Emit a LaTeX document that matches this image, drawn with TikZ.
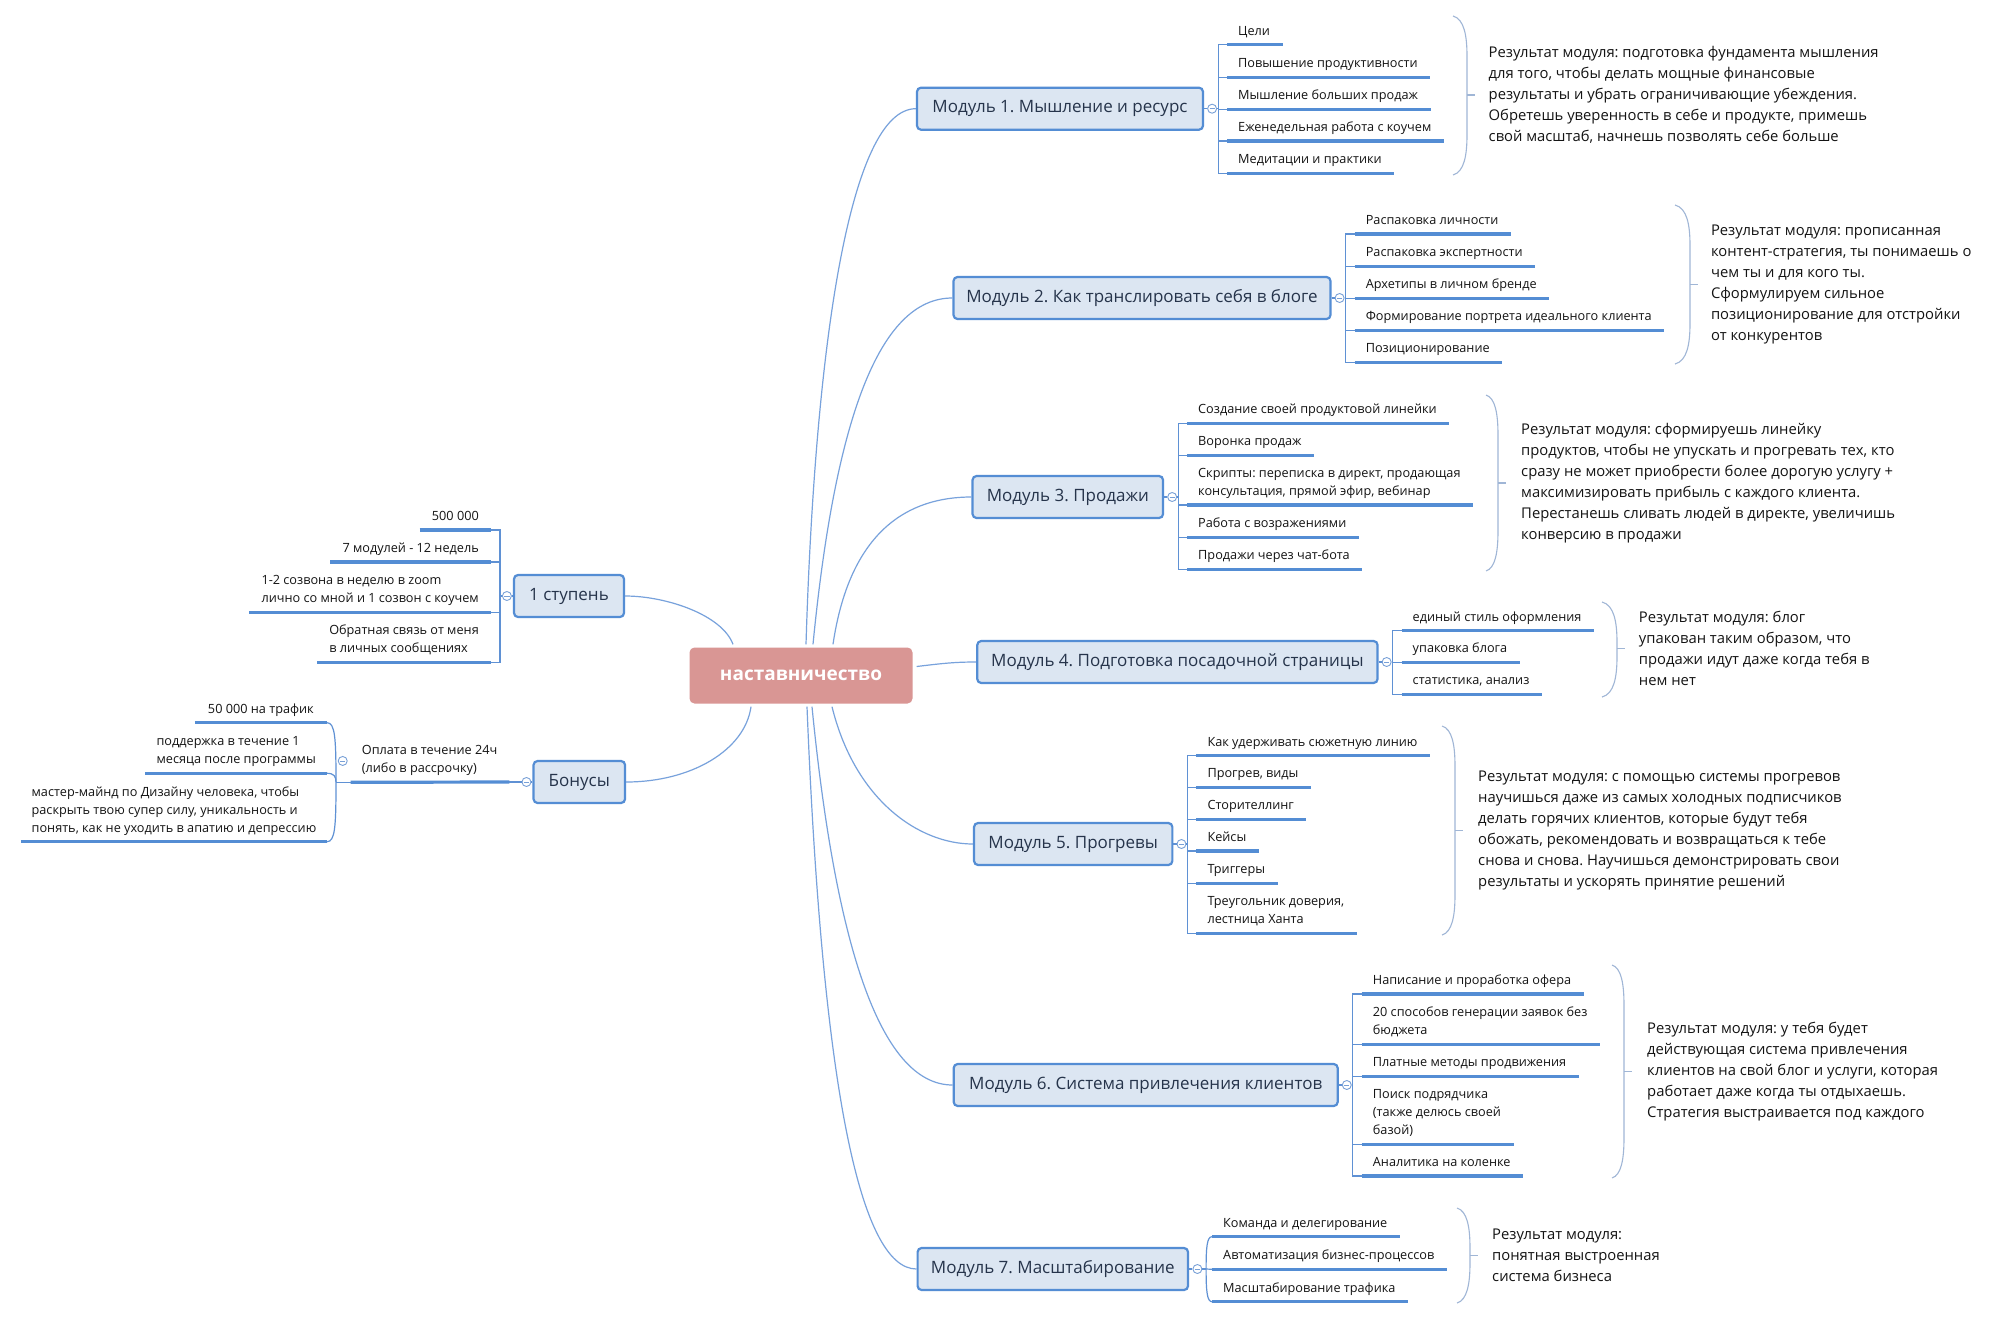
\documentclass[tikz,border=0pt]{standalone}
\usepackage{fontspec}
\setmainfont{Open Sans}
\frenchspacing
\definecolor{mblue}{RGB}{84,141,212}
\definecolor{mfill}{RGB}{220,230,242}
\definecolor{trk}{RGB}{95,145,212}
\definecolor{crv}{RGB}{120,162,220}
\definecolor{brc}{RGB}{160,182,214}
\definecolor{cbtn}{RGB}{120,160,215}
\definecolor{mtext}{RGB}{38,52,75}
\definecolor{ctext}{RGB}{20,20,20}
\definecolor{cfill}{RGB}{217,150,148}
\newcommand\bracepath[5]{%
  \draw[brace] (#1,#2) .. controls (#1+0.8*#5,#2+3) and (#1+#5,#2+20) .. (#1+#5,#2+40) -- (#1+#5,#3-40) .. controls (#1+#5,#3-20) and (#1+0.8*#5,#3-3) .. (#1,#3);
  \draw[brace] (#1+#5,#4) -- ++(8,0);}
\begin{document}
\frenchspacing
\begin{tikzpicture}[x=1pt,y=-1pt,
  module/.style={draw=mblue, line width=2.2pt, fill=mfill, rounded corners=4pt, minimum height=42pt, inner sep=0pt, font=\fontsize{17}{20}\selectfont, text=mtext},
  centre/.style={fill=cfill, rounded corners=5pt, minimum width=223pt, minimum height=56pt, inner sep=0pt, text=white, font=\bfseries\fontsize{19}{22}\selectfont},
  item/.style={inner xsep=11pt, inner ysep=5.8pt, text depth=3.5pt, align=left, text=ctext, font=\fontsize{12.7}{18}\selectfont},
  itemR/.style={item, anchor=south west},
  itemL/.style={item, anchor=south east, inner xsep=12pt},
  res/.style={anchor=west, inner sep=0pt, align=left, text=ctext, font=\fontsize{14.8}{21}\selectfont},
  uline/.style={draw=mblue, line width=3.2pt},
  trunk/.style={draw=trk, line width=1.2pt},
  curve/.style={draw=crv, line width=1.2pt},
  brace/.style={draw=brc, line width=1.1pt},
  btn/.style={circle, draw=cbtn, fill=white, line width=0.9pt, minimum size=9pt, inner sep=0pt, path picture={\draw[cbtn, line width=0.9pt] ([xshift=-2.6pt]path picture bounding box.center) -- ([xshift=2.6pt]path picture bounding box.center);}},
]
\fill[white] (0,0) rectangle (2006,1319);
\useasboundingbox (0,0) rectangle (2006,1319);

% centre and main topics
\node[centre] (cn) at (801,675.5) {наставничество};
\node[module, minimum width=286pt] (m1) at (1060,108.7) {Модуль 1. Мышление и ресурс};
\node[module, minimum width=377pt] (m2) at (1142,298) {Модуль 2. Как транслировать себя в блоге};
\node[module, minimum width=190.5pt] (m3) at (1067.8,497) {Модуль 3. Продажи};
\node[module, minimum width=400.3pt] (m4) at (1177.4,662) {Модуль 4. Подготовка посадочной страницы};
\node[module, minimum width=198.3pt] (m5) at (1073.2,844) {Модуль 5. Прогревы};
\node[module, minimum width=384pt] (m6) at (1145.7,1085) {Модуль 6. Система привлечения клиентов};
\node[module, minimum width=270.4pt] (m7) at (1052.8,1269) {Модуль 7. Масштабирование};
\node[module, minimum width=110pt] (s1) at (569,596) {1 ступень};
\node[module, minimum width=91.5pt] (s2) at (579.3,782) {Бонусы};

% curves from centre
\draw[curve] ([xshift=5pt,yshift=3pt]cn.north) .. controls +(9,-294.5) and +(-67,0) .. (m1.west);
\draw[curve] ([xshift=12pt,yshift=3pt]cn.north) .. controls +(22,-224.5) and +(-73.5,0) .. (m2.west);
\draw[curve] ([xshift=32pt,yshift=3pt]cn.north) .. controls +(17,-114.5) and +(-62.5,0) .. (m3.west);
\draw[curve] ([xshift=4pt,yshift=9pt]cn.east) .. controls +(25,-3) and +(-22,0) .. (m4.west);
\draw[curve] ([xshift=31pt,yshift=-3pt]cn.south) .. controls +(23,93.5) and +(-54,0) .. (m5.west);
\draw[curve] ([xshift=11pt,yshift=-3pt]cn.south) .. controls +(23,233.5) and +(-73.6,0) .. (m6.west);
\draw[curve] ([xshift=6pt,yshift=-3pt]cn.south) .. controls +(15,373.5) and +(-57.6,0) .. (m7.west);
\draw[curve] ([xshift=-68pt,yshift=3pt]cn.north) .. controls +(-11,-29.5) and +(41,0) .. (s1.east);
\draw[curve] ([xshift=-50pt,yshift=-3pt]cn.south) .. controls +(-6,43.5) and +(65,0) .. (s2.east);

% module 1
\node[itemR] (c11) at (1227,44.7) {Цели};
\node[itemR] (c12) at (1227,77.3) {Повышение продуктивности};
\node[itemR] (c13) at (1227,109.3) {Мышление больших продаж};
\node[itemR] (c14) at (1227,141) {Еженедельная работа с коучем};
\node[itemR] (c15) at (1227,173.3) {Медитации и практики};
% module 2
\node[itemR] (c21) at (1354.6,234) {Распаковка личности};
\node[itemR] (c22) at (1354.6,266.3) {Распаковка экспертности};
\node[itemR] (c23) at (1354.6,298.3) {Архетипы в личном бренде};
\node[itemR] (c24) at (1354.6,330.3) {Формирование портрета идеального клиента};
\node[itemR] (c25) at (1354.6,362.3) {Позиционирование};
% module 3
\node[itemR] (c31) at (1187,423.3) {Создание своей продуктовой линейки};
\node[itemR] (c32) at (1187,455.3) {Воронка продаж};
\node[itemR] (c33) at (1187,505) {Скрипты: переписка в директ, продающая\\консультация, прямой эфир, вебинар};
\node[itemR] (c34) at (1187,537.3) {Работа с возражениями};
\node[itemR] (c35) at (1187,569.3) {Продажи через чат-бота};
% module 4
\node[itemR] (c41) at (1401.5,630.7) {единый стиль оформления};
\node[itemR] (c42) at (1401.5,662.3) {упаковка блога};
\node[itemR] (c43) at (1401.5,694.3) {статистика, анализ};
% module 5
\node[itemR] (c51) at (1196.3,755.7) {Как удерживать сюжетную линию};
\node[itemR] (c52) at (1196.3,787.3) {Прогрев, виды};
\node[itemR] (c53) at (1196.3,819.3) {Сторителлинг};
\node[itemR] (c54) at (1196.3,851) {Кейсы};
\node[itemR] (c55) at (1196.3,883.3) {Триггеры};
\node[itemR] (c56) at (1196.3,933.3) {Треугольник доверия,\\лестница Ханта};
% module 6
\node[itemR] (c61) at (1361.7,994) {Написание и проработка офера};
\node[itemR] (c62) at (1361.7,1044.3) {20 способов генерации заявок без\\бюджета};
\node[itemR] (c63) at (1361.7,1076.3) {Платные методы продвижения};
\node[itemR] (c64) at (1361.7,1144.3) {Поиск подрядчика\\(также делюсь своей\\базой)};
\node[itemR] (c65) at (1361.7,1176) {Аналитика на коленке};
% module 7
\node[itemR] (c71) at (1212,1236.7) {Команда и делегирование};
\node[itemR] (c72) at (1212,1269.3) {Автоматизация бизнес-процессов};
\node[itemR] (c73) at (1212,1301.7) {Масштабирование трафика};
% 1 stupen
\node[itemL] (l1) at (491,530) {500 000};
\node[itemL] (l2) at (491,562) {7 модулей - 12 недель};
\node[itemL] (l3) at (491,612.3) {1-2 созвона в неделю в zoom\\лично со мной и 1 созвон с коучем};
\node[itemL] (l4) at (491,662.3) {Обратная связь от меня\\в личных сообщениях};
% bonuses
\node[itemR] (op) at (350.7,782.3) {Оплата в течение 24ч\\(либо в рассрочку)};
\node[itemL, inner xsep=13pt] (d1) at (327,722.7) {50 000 на трафик};
\node[itemL, inner xsep=11pt] (d2) at (327,773.3) {поддержка в течение 1\\месяца после программы};
\node[itemL, inner xsep=10.5pt] (d3) at (327,841.7) {мастер-майнд по Дизайну человека, чтобы\\раскрыть твою супер силу, уникальность и\\понять, как не уходить в апатию и депрессию};

% right-hand connectors (square elbows)
\foreach \m/\k in {m1/1,m2/2,m3/3,m4/4,m5/5,m6/6}{
  \node[btn] (b\k) at ([xshift=8pt]\m.east) {};
  \coordinate (t\k) at ([xshift=14pt]\m.east);
  \draw[trunk] (\m.east) -- (b\k.west) (b\k.east) -- (t\k);
}
\foreach \c in {c11,c12,c13,c14,c15} \draw[trunk] (t1) |- (\c.south west);
\foreach \c in {c21,c22,c23,c24,c25} \draw[trunk] (t2) |- (\c.south west);
\foreach \c in {c31,c32,c33,c34,c35} \draw[trunk] (t3) |- (\c.south west);
\foreach \c in {c41,c42,c43} \draw[trunk] (t4) |- (\c.south west);
\foreach \c in {c51,c52,c53,c54,c55,c56} \draw[trunk] (t5) |- (\c.south west);
\foreach \c in {c61,c62,c63,c64,c65} \draw[trunk] (t6) |- (\c.south west);

% module 7 (rounded)
\node[btn] (b7) at ([xshift=8.3pt]m7.east) {};
\coordinate (t7) at ([xshift=17pt]m7.east);
\draw[trunk] (m7.east) -- (b7.west) (b7.east) -- (t7);
\draw[trunk] (t7) -- (c72.south west);
\draw[trunk] (t7) .. controls +(0,-22) and +(-5,0) .. (c71.south west);
\draw[trunk] (t7) .. controls +(0,22) and +(-5,0) .. (c73.south west);

% 1 stupen connectors
\node[btn] (b8) at ([xshift=-6pt]s1.west) {};
\coordinate (t8) at ([xshift=-13pt]s1.west);
\draw[trunk] (s1.west) -- (b8.east) (b8.west) -- (t8);
\foreach \c in {l1,l2,l3,l4} \draw[trunk] (t8) |- (\c.south east);

% bonus connectors
\node[btn] (b9) at ([xshift=-6pt]s2.west) {};
\coordinate (u9) at ([xshift=-23pt]s2.west);
\draw[trunk] (s2.west) -- (b9.east) (b9.west) -- (u9);
\node[btn] (b10) at ([xshift=-8pt]op.west) {};
\coordinate (jb) at ([xshift=-14.7pt]op.south west);
\draw[trunk] (op.south west) -- (jb);
\draw[trunk] (jb) .. controls +(0,-45) and +(8,0) .. (d1.south east);
\draw[trunk] (jb) .. controls +(0,-6) and +(7,0) .. (d2.south east);
\draw[trunk] (jb) .. controls +(0,45) and +(8,0) .. (d3.south east);

% underlines
\foreach \c in {c11,c12,c13,c14,c15,c21,c22,c23,c24,c25,c31,c32,c33,c34,c35,c41,c42,c43,c51,c52,c53,c54,c55,c56,c61,c62,c63,c64,c65,c71,c72,c73}
  \draw[uline] (\c.south west) -- ([xshift=1.5pt]\c.south east);
\foreach \c in {l1,l2,l3,l4,d1,d2,d3}
  \draw[uline] (\c.south west) -- (\c.south east);
\draw[uline] (op.south west) -- (u9);

% braces
\bracepath{1453}{16}{175}{95}{14}
\bracepath{1675}{205}{364}{284.5}{15}
\bracepath{1486}{395}{571}{483}{12}
\bracepath{1602}{602}{697}{648.5}{15}
\bracepath{1442}{726}{935}{830.5}{13}
\bracepath{1612}{965}{1178}{1071.5}{12}
\bracepath{1457}{1208}{1303}{1255.5}{13}

% results
\node[res] (r1) at (1488.5,95) {Результат модуля: подготовка фундамента мышления\\для того, чтобы делать мощные финансовые\\результаты и убрать ограничивающие убеждения.\\Обретешь уверенность в себе и продукте, примешь\\свой масштаб, начнешь позволять себе больше};
\node[res] (r2) at (1710.8,284.5) {Результат модуля: прописанная\\контент-стратегия, ты понимаешь о\\чем ты и для кого ты.\\Сформулируем сильное\\позиционирование для отстройки\\от конкурентов};
\node[res] (r3) at (1521,483) {Результат модуля: сформируешь линейку\\продуктов, чтобы не упускать и прогревать тех, кто\\сразу не может приобрести более дорогую услугу +\\максимизировать прибыль с каждого клиента.\\Перестанешь сливать людей в директе, увеличишь\\конверсию в продажи};
\node[res] (r4) at (1638.7,648.5) {Результат модуля: блог\\упакован таким образом, что\\продажи идут даже когда тебя в\\нем нет};
\node[res] (r5) at (1478,830.5) {Результат модуля: с помощью системы прогревов\\научишься даже из самых холодных подписчиков\\делать горячих клиентов, которые будут тебя\\обожать, рекомендовать и возвращаться к тебе\\снова и снова. Научишься демонстрировать свои\\результаты и ускорять принятие решений};
\node[res] (r6) at (1647,1071.5) {Результат модуля: у тебя будет\\действующая система привлечения\\клиентов на свой блог и услуги, которая\\работает даже когда ты отдыхаешь.\\Стратегия выстраивается под каждого};
\node[res] (r7) at (1492,1255.5) {Результат модуля:\\понятная выстроенная\\система бизнеса};
\end{tikzpicture}
\end{document}
